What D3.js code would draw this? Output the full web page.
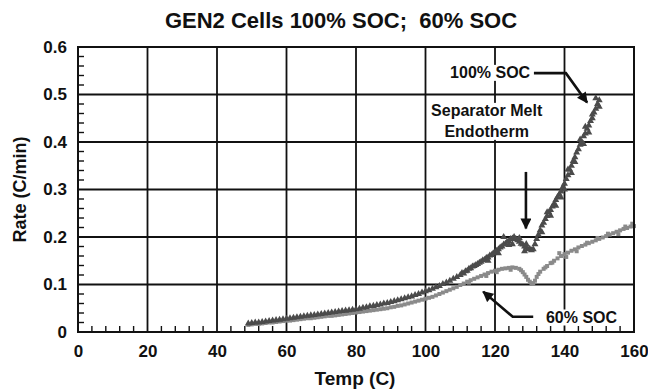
<!DOCTYPE html>
<html>
<head>
<meta charset="utf-8">
<script src="https://cdn.jsdelivr.net/npm/d3@7"></script>
<style>
  body { margin: 0; background: #fff; }
  text { font-family: "Liberation Sans", Arial, Helvetica, sans-serif; font-weight: bold; fill: #111; }
</style>
</head>
<body>
<svg id="chart" width="648" height="390"></svg>
<script>
// ---- Data: self-heating rate vs temperature ----
const temp100 = [49,50,51,52,53,54,55,56,57,58,59,60,61,62,63,64,65,66,67,68,69,70,71,72,73,74,75,76,77,78,79,80,
  81,82,83,84,85,86,87,88,89,90,91,92,93,94,95,96,97,98,99,100,101,102,103,104,105,106,107,108,109,110,
  110.5,111,111.5,112,112.5,113,113.5,114,114.5,115,115.5,116,116.5,117,117.5,118,118.5,119,119.5,120,
  120.5,121,121.5,122,122.5,122.5,123,123.5,124,124.5,125,125,125.5,126,126.5,127,127,127.5,128,128.5,128.5,
  129,129.5,130,130.5,131,131.5,132,132.5,133,133.5,134,134.5,135,135.5,136,136,136.5,137,137.5,138,138.5,
  139,139,139.5,140,140.5,141,141.5,142,142,142.5,143,143.5,144,144.5,144.5,145,145.5,146,146.5,147,147,
  147.5,148,148.5,149,149,149.5,150,
  133.5,135,137.5,140,141,143,145.5,146,148,150,118,121,124,129];
const rate100 = [.018,.019,.020,.020,.021,.022,.023,.024,.025,.026,.027,.028,.029,.030,.031,.032,.033,.034,.035,.036,
  .037,.038,.039,.040,.041,.042,.043,.044,.045,.046,.047,.048,
  .049,.051,.052,.054,.055,.057,.058,.060,.061,.063,.065,.067,.069,.071,.073,.075,.078,.080,.083,.086,.088,.091,
  .094,.097,.101,.104,.108,.112,.116,.120,
  .124,.123,.128,.129,.133,.134,.138,.139,.141,.143,.146,.148,.151,.152,.156,.157,.161,.162,.166,.168,
  .171,.174,.178,.180,.184,.200,.186,.190,.191,.196,.197,.185,.200,.196,.193,.190,.198,.186,.184,.180,.170,
  .178,.174,.175,.172,.174,.185,.196,.205,.214,.224,.230,.238,.244,.252,.257,.245,.264,.270,.278,.284,.290,
  .296,.283,.305,.312,.322,.330,.342,.350,.335,.360,.368,.378,.385,.394,.405,.400,.412,.418,.428,.435,.420,
  .444,.450,.462,.470,.492,.480,.488,
  .210,.252,.266,.300,.342,.358,.396,.432,.458,.474,.150,.166,.183,.185];

const temp60 = [49,50,51,52,53,54,55,56,57,58,59,60,61,62,63,64,65,66,67,68,69,70,71,72,73,74,75,76,77,78,79,80,
  81,82,83,84,85,86,87,88,89,90,91,92,93,94,95,96,97,98,99,100,101,102,103,104,105,106,107,108,109,110,
  111,112,113,114,115,116,117,118,119,120,121,122,123,124,125,126,127,127.5,128,128.5,129,129.5,130,130.5,
  131,131.5,132,132.5,133,134,135,136,137,138,138.5,139,140,141,142,143,144,145,146,147,148,149,150,151,152,
  153,154,155,156,157,158,159,160,
  112.5,117.5,120.5,124.5,134.5,136.5,140.5,143.5,146.5,149.5,152.5,155.5,157.5,159.5];
const rate60 = [.015,.016,.017,.017,.018,.019,.020,.020,.021,.022,.023,.024,.024,.025,.026,.027,.028,.029,.029,.030,
  .031,.032,.033,.034,.034,.035,.036,.037,.038,.039,.040,.041,
  .042,.043,.044,.045,.046,.047,.048,.049,.050,.052,.053,.055,.056,.058,.060,.062,.064,.066,.068,.070,.072,.074,
  .077,.080,.083,.086,.089,.092,.095,.099,
  .102,.106,.109,.112,.115,.118,.121,.124,.127,.129,.131,.133,.134,.135,.136,.135,.133,.130,.126,.121,.116,.110,.106,.103,
  .101,.108,.116,.122,.127,.133,.139,.145,.150,.155,.166,.160,.164,.167,.171,.174,.178,.181,.184,.187,.190,.193,.196,.199,.202,
  .205,.208,.211,.214,.217,.219,.222,.223,
  .104,.118,.126,.131,.136,.146,.158,.170,.188,.198,.207,.206,.222,.228];

const xTicks = [0, 20, 40, 60, 80, 100, 120, 140, 160];
const yTicks = [0, 0.1, 0.2, 0.3, 0.4, 0.5, 0.6];

// ---- Layout ----
const svg = d3.select("#chart");
const plotL = 78, plotR = 634, plotT = 47, plotB = 332;

const x = d3.scaleLinear().domain([0, 160]).range([plotL, plotR]);
const y = d3.scaleLinear().domain([0, 0.6]).range([plotB, plotT]);

// Title
svg.append("text")
  .attr("x", 341).attr("y", 28)
  .attr("text-anchor", "middle")
  .style("font-size", "22px")
  .style("white-space", "pre")
  .text("GEN2 Cells 100% SOC;  60% SOC");

// Grid lines at major ticks
const grid = svg.append("g").attr("stroke", "#111").attr("stroke-width", 1.8);
grid.selectAll("line.v").data(xTicks.slice(1, -1)).join("line")
  .attr("x1", d => x(d)).attr("x2", d => x(d))
  .attr("y1", plotT).attr("y2", plotB);
grid.selectAll("line.h").data(yTicks.slice(1, -1)).join("line")
  .attr("x1", plotL).attr("x2", plotR)
  .attr("y1", d => y(d)).attr("y2", d => y(d));

// Minor ticks pointing into the plot
const minor = svg.append("g").attr("stroke", "#111").attr("stroke-width", 1.4);
minor.selectAll("line.mx").data(d3.range(4, 160, 4).filter(v => v % 20 !== 0)).join("line")
  .attr("x1", d => x(d)).attr("x2", d => x(d))
  .attr("y1", plotB).attr("y2", plotB - 6);
minor.selectAll("line.my").data(d3.range(1, 30).filter(i => i % 5 !== 0).map(i => i * 0.02)).join("line")
  .attr("x1", plotL).attr("x2", plotL + 6)
  .attr("y1", d => y(d)).attr("y2", d => y(d));

// Axis tick labels (tick lines are the grid, so they are hidden here)
const fmtY = d => d === 0 ? "0" : d3.format(".1f")(d);
const yAxis = svg.append("g").attr("transform", `translate(${plotL},0)`)
  .call(d3.axisLeft(y).tickValues(yTicks).tickFormat(fmtY).tickSize(0).tickPadding(11));
yAxis.select(".domain").remove();

const xAxis = svg.append("g").attr("transform", `translate(0,${plotB})`)
  .call(d3.axisBottom(x).tickValues(xTicks).tickFormat(d3.format("d")).tickSize(0).tickPadding(13));
xAxis.select(".domain").remove();

svg.selectAll(".tick text").attr("fill", null).style("font-size", "17px");
svg.selectAll("g").attr("font-family", null).attr("font-size", null);

svg.append("text")
  .attr("x", 355).attr("y", 385)
  .attr("text-anchor", "middle")
  .style("font-size", "19px")
  .text("Temp (C)");

svg.append("text")
  .attr("transform", `translate(26,${(plotT + plotB) / 2}) rotate(-90)`)
  .attr("text-anchor", "middle")
  .style("font-size", "18px")
  .text("Rate (C/min)");

// Annotation labels with white backing over the grid
function label(lines, tx, ry, lineGap) {
  const g = svg.append("g");
  const t = g.append("text")
    .attr("text-anchor", "middle")
    .style("font-size", "16px");
  lines.forEach((s, i) => {
    t.append("tspan").attr("x", x(tx)).attr("y", y(ry) + i * lineGap).text(s);
  });
  const b = t.node().getBBox();
  g.insert("rect", "text")
    .attr("x", b.x - 2).attr("y", b.y + 1)
    .attr("width", b.width + 4).attr("height", b.height - 1)
    .attr("fill", "#fff");
}
label(["100% SOC"], 118.6, 0.535, 0);
label(["Separator Melt", "Endotherm"], 117.6, 0.455, 21);
label(["60% SOC"], 144.9, 0.02, 0);

// Arrows
const defs = svg.append("defs");
defs.append("marker")
  .attr("id", "head")
  .attr("viewBox", "0 0 10 10")
  .attr("refX", 9).attr("refY", 5)
  .attr("markerWidth", 4.4).attr("markerHeight", 4.2)
  .attr("markerUnits", "strokeWidth")
  .attr("orient", "auto")
  .append("path").attr("d", "M0,0 L10,5 L0,10 Z").attr("fill", "#111");

const arrowLine = d3.line().x(d => x(d[0])).y(d => y(d[1]));
const arrows = [
  [[131.2, 0.545], [140.4, 0.545], [146.5, 0.483]],
  [[128.9, 0.337], [128.9, 0.218]],
  [[131.0, 0.032], [125.1, 0.032], [116.6, 0.085]]
];
svg.append("g").selectAll("path").data(arrows).join("path")
  .attr("d", arrowLine)
  .attr("fill", "none")
  .attr("stroke", "#111")
  .attr("stroke-width", 2.6)
  .attr("stroke-linejoin", "miter")
  .attr("marker-end", "url(#head)");

// Data series: 60% SOC squares beneath 100% SOC triangles
const pts60 = temp60.map((t, i) => [t, rate60[i]]);
const pts100 = temp100.map((t, i) => [t, rate100[i]]);

svg.append("g").selectAll("path").data(pts60).join("path")
  .attr("transform", d => `translate(${x(d[0])},${y(d[1])})`)
  .attr("d", d3.symbol(d3.symbolSquare, 16))
  .attr("fill", "#8a8a8a");

svg.append("g").selectAll("path").data(pts100).join("path")
  .attr("transform", d => `translate(${x(d[0])},${y(d[1])})`)
  .attr("d", d3.symbol(d3.symbolTriangle, 21))
  .attr("fill", "#4b4b4b");

// Plot frame
svg.append("rect")
  .attr("x", plotL).attr("y", plotT)
  .attr("width", plotR - plotL).attr("height", plotB - plotT)
  .attr("fill", "none").attr("stroke", "#111").attr("stroke-width", 2);
</script>
</body>
</html>
